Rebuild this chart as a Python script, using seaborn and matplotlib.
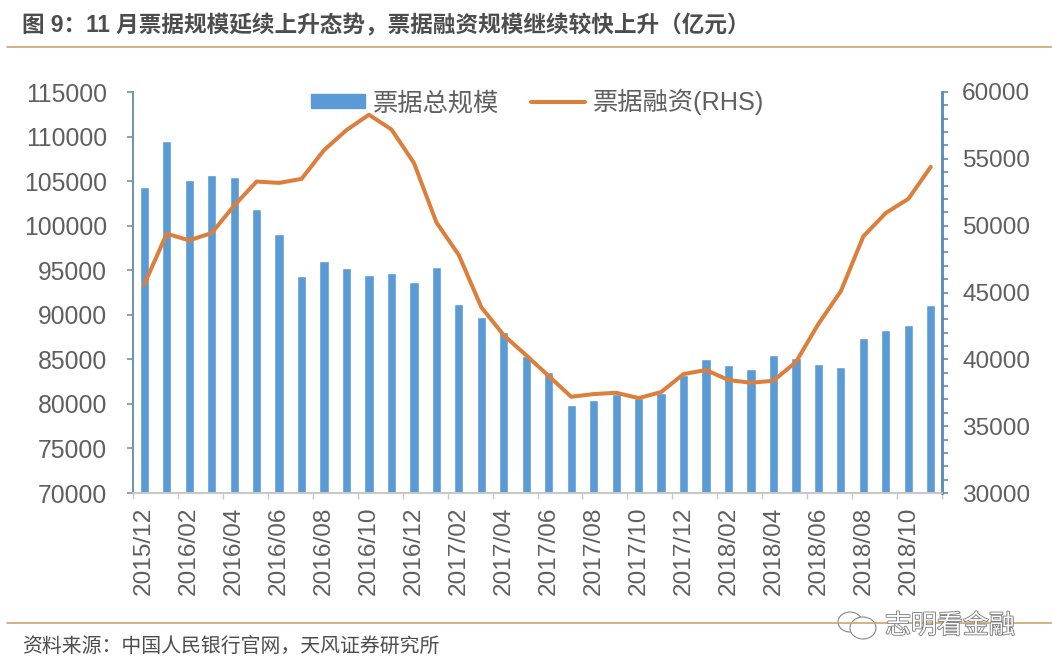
import numpy as np
import pandas as pd
import seaborn as sns
import matplotlib.pyplot as plt
import matplotlib.patheffects as pe
from matplotlib.patches import Ellipse
from matplotlib.lines import Line2D

# --- data (亿元) ---
months = ['2015/12',
          '2016/01', '2016/02', '2016/03', '2016/04', '2016/05', '2016/06',
          '2016/07', '2016/08', '2016/09', '2016/10', '2016/11', '2016/12',
          '2017/01', '2017/02', '2017/03', '2017/04', '2017/05', '2017/06',
          '2017/07', '2017/08', '2017/09', '2017/10', '2017/11', '2017/12',
          '2018/01', '2018/02', '2018/03', '2018/04', '2018/05', '2018/06',
          '2018/07', '2018/08', '2018/09', '2018/10', '2018/11']
bill_total = [104350,
              109450, 105150, 105700, 105500, 101900, 99100,
              94300, 96050, 95200, 94500, 94700, 93700,
              95400, 91200, 89800, 88100, 85400, 83600,
              79900, 80400, 81100, 80700, 81200, 83200,
              85000, 84400, 83900, 85500, 85100, 84500,
              84100, 87400, 88300, 88900, 91100]
bill_finance = [45600,
                49400, 48900, 49450, 51500, 53300, 53200,
                53500, 55650, 57150, 58300, 57200, 54700,
                50250, 47800, 43900, 41800, 40300, 38750,
                37200, 37400, 37500, 37100, 37550, 38900,
                39200, 38450, 38250, 38400, 39800, 42650,
                45100, 49200, 50950, 52000, 54400]

left_ticks = list(range(70000, 115001, 5000))
right_ticks = list(range(30000, 60001, 5000))

title = '图 9：11 月票据规模延续上升态势，票据融资规模继续较快上升（亿元）'
source = '资料来源：中国人民银行官网，天风证券研究所'
watermark = '志明看金融'

bar_color = '#5b9bd5'
line_color = '#dd7f3c'
text_color = '#5f5f5f'
rule_color = '#c9a66f'

df = pd.DataFrame({'month': months, 'total': bill_total, 'finance': bill_finance})

# --- style ---
sns.set_theme(style='white')
plt.rcParams['font.family'] = ['Liberation Sans', 'Noto Sans CJK SC', 'DejaVu Sans']

W, H = 1052, 670
fig = plt.figure(figsize=(W / 100, H / 100), dpi=100, facecolor='white')
ax = fig.add_axes([133 / W, 1 - 493 / H, (942 - 133) / W, (493 - 92) / H])
ax2 = ax.twinx()

# --- bars and line ---
sns.barplot(data=df, x='month', y='total', color=bar_color, saturation=1,
            width=0.41, ax=ax)
sns.lineplot(data=df, x='month', y='finance', color=line_color, linewidth=2.9,
             sort=False, ax=ax2)

ax.set_xlim(-0.5, len(months) - 0.5)
ax.set_ylim(70000, 115000)
ax2.set_ylim(30000, 60000)
ax.set_xlabel('')
ax.set_ylabel('')
ax2.set_xlabel('')
ax2.set_ylabel('')

# --- axes ---
ax.set_xticks(range(0, len(months), 2))
ax.set_xticklabels(months[::2], rotation=90, fontsize=17.6, color=text_color)
ax.set_xticks(np.arange(-0.5, len(months), 2), minor=True)
ax.tick_params(axis='x', which='major', length=0, pad=10)
ax.tick_params(axis='x', which='minor', bottom=True, length=4, width=1, color='#c8c8c8')

ax.set_yticks(left_ticks)
ax.set_yticklabels([str(v) for v in left_ticks], fontsize=17.8, color=text_color)
ax.tick_params(axis='y', left=True, length=4.5, width=1.2, color='#6f96b0', pad=14)

ax2.set_yticks(right_ticks)
ax2.set_yticklabels([str(v) for v in right_ticks], fontsize=17.6, color=text_color)
ax2.set_yticks(range(30000, 60001, 1000), minor=True)
ax2.tick_params(axis='y', which='major', right=True, length=4.5, width=1.2, color='#5b8db8', pad=10)
ax2.tick_params(axis='y', which='minor', right=True, length=4.5, width=1.2, color='#5b8db8')

for a in (ax, ax2):
    a.spines['top'].set_visible(False)
    a.spines['bottom'].set_color('#c8c8c8')
    a.spines['bottom'].set_linewidth(1.3)
    a.spines['left'].set_color('#6f96b0')
    a.spines['left'].set_linewidth(1.4)
    a.spines['right'].set_color('#5b8db8')
    a.spines['right'].set_linewidth(1.8)

# --- legend ---
handles = [plt.Rectangle((0, 0), 1, 1, color=bar_color),
           Line2D([0], [0], color=line_color, linewidth=2.9, solid_capstyle='round')]
leg = ax2.legend(handles, ['票据总规模', '票据融资(RHS)'], ncol=2, frameon=False,
                 loc='center', bbox_to_anchor=((537.5 - 133) / 809, 1 - (102 - 92) / 401),
                 fontsize=18.2, handlelength=2.15, handleheight=0.5,
                 handletextpad=0.3, columnspacing=1.25, labelcolor=text_color)

# --- title, source, rules ---
fig.text(22 / W, 1 - 26 / H, title, fontsize=16.3, fontweight='bold',
         color='#4d4d4d', va='center', ha='left')
fig.text(22 / W, 1 - 646 / H, source, fontsize=14.3, color='#4d4d4d',
         va='center', ha='left')
fig.add_artist(Line2D([7 / W, 1], [1 - 47 / H, 1 - 47 / H], color=rule_color, linewidth=1.2))
fig.add_artist(Line2D([7 / W, 1], [1 - 623 / H, 1 - 623 / H], color=rule_color, linewidth=1.2))

# --- watermark ---
fig.text(885 / W, 1 - 626 / H, watermark, fontsize=18.7, color='white', va='center', ha='left',
         path_effects=[pe.withStroke(linewidth=1.2, foreground='#777777')])
for cx, cy, w, h in [(850, 622, 24, 20), (863, 628, 26, 22)]:
    fig.add_artist(Ellipse((cx / 100, (H - cy) / 100), w / 100, h / 100,
                           transform=fig.dpi_scale_trans, facecolor='white',
                           edgecolor='#888888', linewidth=0.8))

fig.savefig('out.png', dpi=100, facecolor='white')
plt.close(fig)
